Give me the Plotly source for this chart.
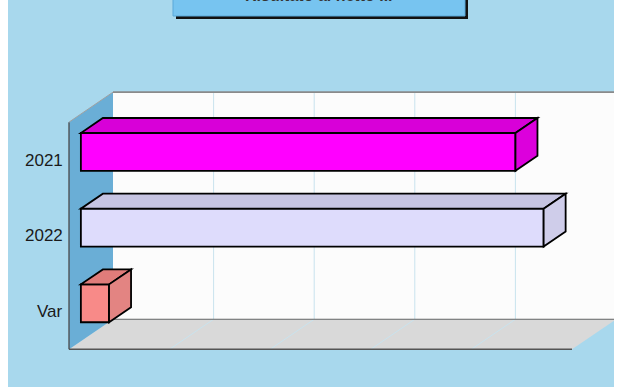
import plotly.graph_objects as go

# ---- data ----
categories = ["2021", "2022", "Var"]
values = [4.32, 4.60, 0.28]
front_colors = ["#ff00ff", "#dedcfc", "#f88a88"]
top_colors = ["#d800d8", "#c6c4e2", "#e07c7a"]
side_colors = ["#dc00dc", "#cfcdea", "#e38482"]
grid_values = [0, 1, 2, 3, 4, 5]
title_text = "Risultato al netto ..."

# ---- projection helpers (data units) ----
DX = 0.4374   # depth shift in value units
DY = -0.396   # depth shift in category units
F0, F1 = 0.27, 0.77  # bar depth span
HALF = 0.25          # half bar thickness
VMAX = grid_values[-1]
CTOP, CBOT = -0.5, len(categories) - 0.5


def P(v, c, f):
    return v + f * DX, c + f * DY


def path(pts):
    s = ""
    for i, (v, c, f) in enumerate(pts):
        x, y = P(v, c, f)
        s += ("M" if i == 0 else "L") + f"{x:.4f},{y:.4f} "
    return s + "Z"


def line_path(pts):
    s = ""
    for i, (v, c, f) in enumerate(pts):
        x, y = P(v, c, f)
        s += ("M" if i == 0 else "L") + f"{x:.4f},{y:.4f} "
    return s


shapes = []
# back wall
shapes.append(dict(type="path", xref="x", yref="y",
                   path=path([(0, CTOP, 1), (VMAX, CTOP, 1), (VMAX, CBOT, 1), (0, CBOT, 1)]),
                   fillcolor="#fcfcfc", line=dict(width=0)))
# floor
shapes.append(dict(type="path", xref="x", yref="y",
                   path=path([(0, CBOT, 0), (VMAX, CBOT, 0), (VMAX, CBOT, 1), (0, CBOT, 1)]),
                   fillcolor="#d9d9d9", line=dict(width=0)))
# left wall
shapes.append(dict(type="path", xref="x", yref="y",
                   path=path([(0, CTOP, 0), (0, CTOP, 1), (0, CBOT, 1), (0, CBOT, 0)]),
                   fillcolor="#6aaed6", line=dict(width=0)))
# gridlines
for g in grid_values[1:-1]:
    shapes.append(dict(type="path", xref="x", yref="y",
                       path=line_path([(g, CTOP, 1), (g, CBOT, 1), (g, CBOT, 0)]),
                       line=dict(color="#c9e3ee", width=1)))
# edges
shapes.append(dict(type="path", xref="x", yref="y",
                   path=line_path([(0, CBOT, 0), (VMAX, CBOT, 0)]),
                   line=dict(color="#555555", width=1.3)))
shapes.append(dict(type="path", xref="x", yref="y",
                   path=line_path([(0, CBOT, 1), (VMAX, CBOT, 1)]),
                   line=dict(color="#666666", width=1.2)))
shapes.append(dict(type="path", xref="x", yref="y",
                   path=line_path([(0, CTOP, 0), (0, CBOT, 0)]),
                   line=dict(color="#4a4a4a", width=1.3)))
shapes.append(dict(type="path", xref="x", yref="y",
                   path=line_path([(0, CTOP, 0), (0, CTOP, 1)]),
                   line=dict(color="#a0a0a0", width=1)))
shapes.append(dict(type="path", xref="x", yref="y",
                   path=line_path([(0, CTOP, 1), (VMAX, CTOP, 1)]),
                   line=dict(color="#8a8a8a", width=1.6)))

# bars
for i, (cat, val) in enumerate(zip(categories, values)):
    c0, c1 = i - HALF, i + HALF
    bl = dict(color="black", width=1.8)
    shapes.append(dict(type="path", xref="x", yref="y",
                       path=path([(0, c0, F0), (val, c0, F0), (val, c1, F0), (0, c1, F0)]),
                       fillcolor=front_colors[i], line=bl))
    shapes.append(dict(type="path", xref="x", yref="y",
                       path=path([(0, c0, F0), (val, c0, F0), (val, c0, F1), (0, c0, F1)]),
                       fillcolor=top_colors[i], line=bl))
    shapes.append(dict(type="path", xref="x", yref="y",
                       path=path([(val, c0, F0), (val, c1, F0), (val, c1, F1), (val, c0, F1)]),
                       fillcolor=side_colors[i], line=bl))

# page offset of the plot (body margin on the left)
OX = 8
W, H = 622, 387
# title box with shadow (paper coords)
bx0, bx1, by = (173 - OX) / W, (465 - OX) / W, 1 - 16 / H
sh = 3
shapes.append(dict(type="rect", xref="paper", yref="paper",
                   x0=bx0 + sh / W, x1=bx1 + sh / W, y0=by - sh / H, y1=1.2,
                   fillcolor="#111111", line=dict(width=0)))
shapes.append(dict(type="rect", xref="paper", yref="paper",
                   x0=bx0, x1=bx1, y0=by, y1=1.2,
                   fillcolor="#77c4f0", line=dict(color="#5aa8d8", width=1)))

annotations = []
for i, cat in enumerate(categories):
    annotations.append(dict(x=0, y=i, xref="x", yref="y", text=cat, showarrow=False,
                            xanchor="right", yanchor="middle", xshift=-4,
                            font=dict(family="Liberation Sans, Arial", size=17, color="#1a1a1a")))
annotations.append(dict(x=(bx0 + bx1) / 2, y=1 + 4 / H, xref="paper", yref="paper",
                        text=f"<b>{title_text}</b>", showarrow=False,
                        xanchor="center", yanchor="middle",
                        font=dict(family="Liberation Sans, Arial", size=16, color="#333333")))

fig = go.Figure()
fig.add_trace(go.Scatter(x=[0], y=[0], mode="markers", marker=dict(opacity=0),
                         hoverinfo="skip", showlegend=False))
PXV = 100.6
PXC = 75.7
X0 = 69 - OX
fig.update_layout(
    width=W, height=H,
    margin=dict(l=0, r=0, t=0, b=0),
    paper_bgcolor="#a8d8ed", plot_bgcolor="#a8d8ed",
    xaxis=dict(range=[-X0 / PXV, (W - X0) / PXV], visible=False, fixedrange=True),
    yaxis=dict(range=[(H - 160) / PXC, -160 / PXC], visible=False, fixedrange=True),
    shapes=shapes, annotations=annotations, showlegend=False,
)
fig.write_html("out.html", post_script="document.body.style.marginTop='0px';")
